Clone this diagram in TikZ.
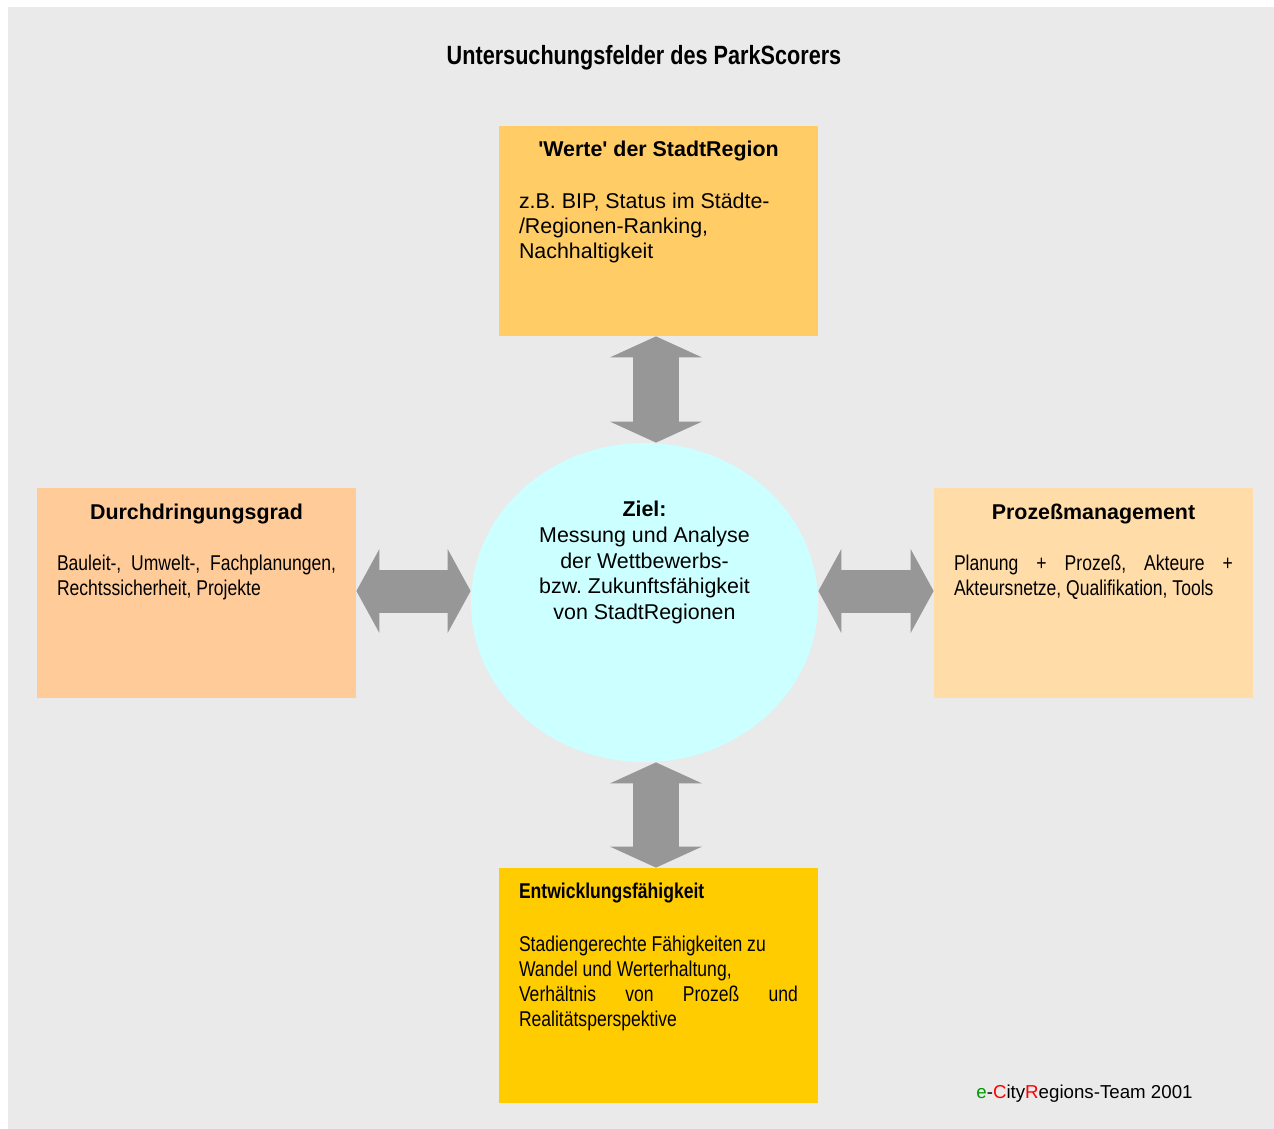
\documentclass[tikz,border=0pt]{standalone}
\usepackage{fontspec}
\setmainfont{Liberation Sans}
\newfontfamily\narrowfont[FakeStretch=0.82]{Liberation Sans}
\usetikzlibrary{arrows.meta,positioning,shapes.geometric}
\definecolor{bggrey}{HTML}{EAEAEA}
\definecolor{wertecolor}{HTML}{FFCC66}
\definecolor{durchcolor}{HTML}{FFCC99}
\definecolor{prozesscolor}{HTML}{FFDCA8}
\definecolor{entwcolor}{HTML}{FFCC00}
\definecolor{zielcolor}{HTML}{CCFFFF}
\definecolor{arrowgrey}{HTML}{979797}
\definecolor{teamgreen}{HTML}{009900}
\definecolor{teamred}{HTML}{FF0000}
\tikzset{
  fieldbox/.style={
    draw=none,
    minimum width=159.5pt,
    minimum height=105pt,
    inner sep=0pt
  },
  zielnode/.style={
    ellipse,
    draw=none,
    fill=zielcolor,
    minimum width=173.5pt,
    minimum height=159.5pt,
    inner sep=0pt
  },
  headtext/.style={font=\fontsize{10.7}{12.6}\selectfont\bfseries, inner sep=0pt},
  narrowhead/.style={font=\fontsize{10.7}{12.6}\selectfont\narrowfont\bfseries, inner sep=0pt},
  bodytext/.style={font=\fontsize{10.7}{12.6}\selectfont, align=left, inner sep=0pt},
  narrowbody/.style={
    font=\fontsize{10.7}{12.6}\selectfont\narrowfont,
    align=justify,
    text width=139.5pt,
    inner sep=0pt
  },
  vfatarrow/.style={
    line width=23pt,
    draw=arrowgrey,
    {Triangle[width=46pt,length=10.5pt,line width=0pt]}-{Triangle[width=46pt,length=10.5pt,line width=0pt]}
  },
  hfatarrow/.style={
    line width=21.5pt,
    draw=arrowgrey,
    {Triangle[width=42pt,length=11.5pt,line width=0pt]}-{Triangle[width=42pt,length=11.5pt,line width=0pt]}
  }
}

\begin{document}
\frenchspacing
\begin{tikzpicture}[x=1pt,y=-1pt]
  \useasboundingbox (0,0) rectangle (637,564.5);
  \fill[bggrey] (4,3.5) rectangle (637,564.5);
  % title
  \node[font=\fontsize{13.2}{15}\selectfont\narrowfont\bfseries, inner sep=0pt, anchor=base] (title) at (322,32.2) {Untersuchungsfelder des ParkScorers};
  % the four fields and the goal
  \node[fieldbox, fill=wertecolor] (werte) at (329.25,115.5) {};
  \node[fieldbox, fill=durchcolor] (durch) at (98.25,296.5) {};
  \node[fieldbox, fill=prozesscolor] (prozess) at (546.75,296.5) {};
  \node[fieldbox, fill=entwcolor, minimum height=117.5pt] (entw) at (329.25,492.75) {};
  \node[zielnode] (ziel) at (322.25,301.25) {};
  % texts
  \node[headtext, below=7.7pt of werte.north] (wertehead) {\textquotesingle Werte\textquotesingle{} der StadtRegion};
  \node[bodytext, below right=33.5pt and 10pt of werte.north west] (wertebody) {z.B. BIP, Status im Städte-\\/Regionen-Ranking,\\Nachhaltigkeit};
  \node[headtext, below=7.8pt of durch.north] (durchhead) {Durchdringungsgrad};
  \node[narrowbody, below right=33.6pt and 10pt of durch.north west] (durchbody) {Bauleit-, Umwelt-, Fachplanungen,\linebreak Rechtssicherheit, Projekte};
  \node[headtext, below=7.8pt of prozess.north] (prozesshead) {Prozeßmanagement};
  \node[narrowbody, below right=33.6pt and 10pt of prozess.north west] (prozessbody) {Planung + Prozeß, Akteure +\linebreak Akteursnetze, Qualifikation, Tools};
  \node[narrowhead, below right=7.6pt and 10pt of entw.north west] (entwhead) {Entwicklungsfähigkeit};
  \node[narrowbody, below right=33.8pt and 10pt of entw.north west] (entwbody) {Stadiengerechte Fähigkeiten zu\\Wandel und Werterhaltung,\\Verhältnis von Prozeß und\linebreak Realitätsperspektive};
  \node[font=\fontsize{10.7}{12.8}\selectfont, align=center, inner sep=0pt, below=29.2pt of ziel.north] (zieltext) {\textbf{Ziel:}\\Messung und Analyse\\der Wettbewerbs-\\bzw. Zukunftsfähigkeit\\von StadtRegionen};
  \node[font=\fontsize{9.35}{11}\selectfont, inner sep=0pt, anchor=base west] (team) at (488,549.3) {\textcolor{teamgreen}{e}-\textcolor{teamred}{C}ity\textcolor{teamred}{R}egions-Team 2001};
  % connectors
  \draw[vfatarrow] ([xshift=-1.25pt]werte.south) -- ([xshift=-1.25pt]werte.south |- ziel.north);
  \draw[hfatarrow] ([yshift=1pt]durch.east) -- ([yshift=1pt]durch.east -| ziel.west);
  \draw[hfatarrow] ([yshift=1pt]prozess.west -| ziel.east) -- ([yshift=1pt]prozess.west);
  \draw[vfatarrow] ([xshift=-1.25pt]entw.north |- ziel.south) -- ([xshift=-1.25pt]entw.north);
\end{tikzpicture}
\end{document}
